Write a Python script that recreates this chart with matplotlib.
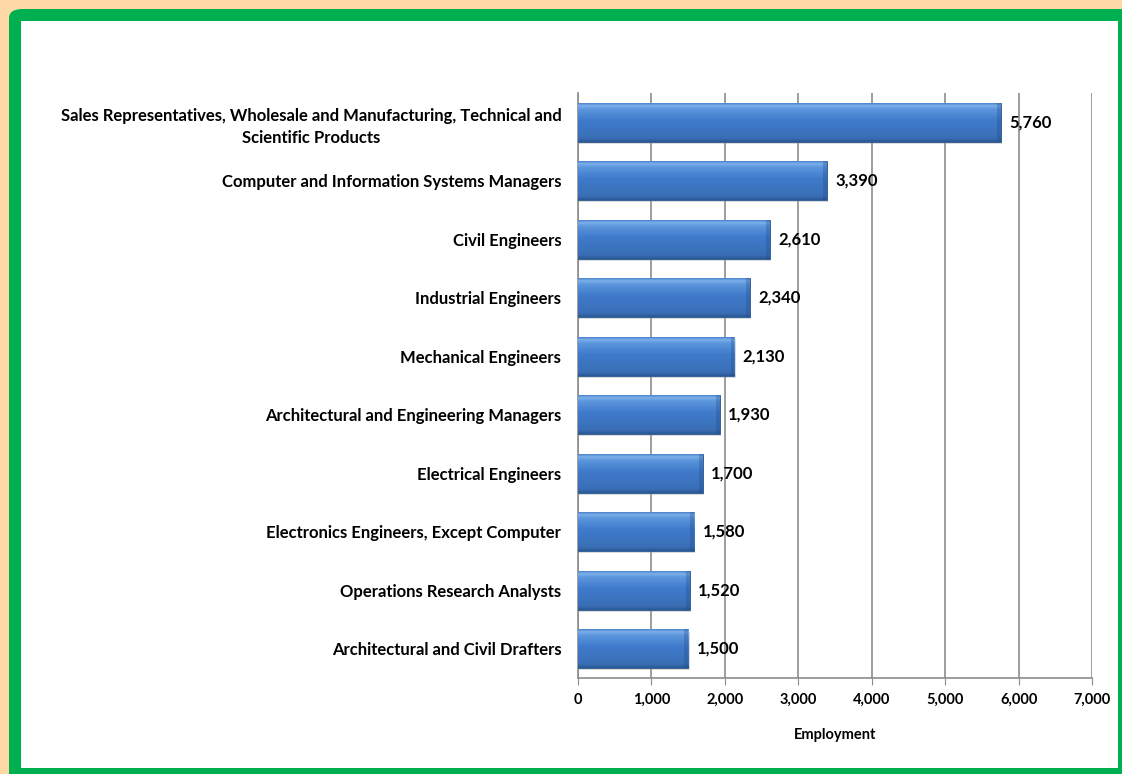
import numpy as np
import matplotlib.pyplot as plt
from matplotlib.patches import FancyBboxPatch, Rectangle
from matplotlib.colors import LinearSegmentedColormap

# occupations and employment
occupations = [
    "Sales Representatives, Wholesale and Manufacturing, Technical and\nScientific Products",
    "Computer and Information Systems Managers",
    "Civil Engineers",
    "Industrial Engineers",
    "Mechanical Engineers",
    "Architectural and Engineering Managers",
    "Electrical Engineers",
    "Electronics Engineers, Except Computer",
    "Operations Research Analysts",
    "Architectural and Civil Drafters",
]
employment = [5760, 3390, 2610, 2340, 2130, 1930, 1700, 1580, 1520, 1500]
x_ticks = [0, 1000, 2000, 3000, 4000, 5000, 6000, 7000]

plt.rcParams['font.family'] = ['Lato', 'DejaVu Sans']
plt.rcParams['font.weight'] = 'bold'

fig = plt.figure(figsize=(11.22, 7.74), dpi=100)
fig.patch.set_facecolor('#FDD9A6')

# green frame with white panel
W, H = 1122, 774
frame = FancyBboxPatch((9 / W, -0.05), 1.2, 1.05 - 9 / H,
                       boxstyle="round,pad=0,rounding_size=0.012",
                       transform=fig.transFigure, facecolor='#00B050',
                       edgecolor='none', zorder=-2)
fig.patches.append(frame)
panel = Rectangle((21 / W, 6 / H), (1118 - 21) / W, 1 - 27 / H,
                  transform=fig.transFigure, facecolor='white',
                  edgecolor='none', zorder=-1)
fig.patches.append(panel)

ax = fig.add_axes([578 / W, 1 - 678 / H, (1092 - 578) / W, (678 - 93) / H])
ax.set_facecolor('none')
ax.set_zorder(2)

n = len(occupations)
ypos = np.arange(n)
bar_h = 0.66

cmap = LinearSegmentedColormap.from_list(
    'bevel', [(0.0, '#2A5895'), (0.10, '#3A6FB6'), (0.55, '#3F7ACB'),
              (0.85, '#5C96DC'), (0.94, '#7DB0EC'), (1.0, '#4E86CF')])
grad = np.linspace(0, 1, 64).reshape(-1, 1)

bars = ax.barh(ypos, employment, height=bar_h, color='#3F7ACB',
               edgecolor='#2C5790', linewidth=0.6, zorder=3)
for b, v in zip(bars, employment):
    y0 = b.get_y()
    # faint drop shadow below the bar
    ax.add_patch(Rectangle((20, y0 + 0.04), v, bar_h, facecolor='#9A9A9A',
                           alpha=0.35, edgecolor='none', zorder=2))
    im = ax.imshow(grad, cmap=cmap, aspect='auto', origin='lower',
                   extent=(0, v, y0 + bar_h, y0), zorder=3.5)
    im.set_clip_path(b)
    # darker right end
    ax.add_patch(Rectangle((v - 50, y0), 50, bar_h, facecolor='#1F4A85',
                           alpha=0.3, edgecolor='none', zorder=3.6))
    ax.text(v + 115, y0 + bar_h / 2, f"{v:,}", va='center', ha='left',
            fontsize=12, fontweight='bold', color='black', zorder=5)

ax.set_xlim(0, 7000)
ax.set_ylim(n - 0.5, -0.5)
ax.set_xticks(x_ticks)
ax.set_xticklabels([f"{t:,}" for t in x_ticks], fontsize=10.5, fontweight='bold')
ax.set_yticks(ypos)
ax.set_yticklabels(occupations, fontsize=12, fontweight='bold',
                   multialignment='center', linespacing=1.45)
ax.tick_params(axis='y', length=0, pad=12)
ax.tick_params(axis='x', length=5, color='#8C8C8C', pad=6)
ax.xaxis.grid(True, color='#8C8C8C', linewidth=1.2, zorder=0)
ax.set_axisbelow(True)
for side in ['top', 'right']:
    ax.spines[side].set_visible(False)
for side in ['left', 'bottom']:
    ax.spines[side].set_color('#8C8C8C')
    ax.spines[side].set_linewidth(1.2)

ax.set_xlabel("Employment", fontsize=10.5, fontweight='bold', labelpad=15)

plt.savefig('out.png', dpi=100, facecolor=fig.get_facecolor())
